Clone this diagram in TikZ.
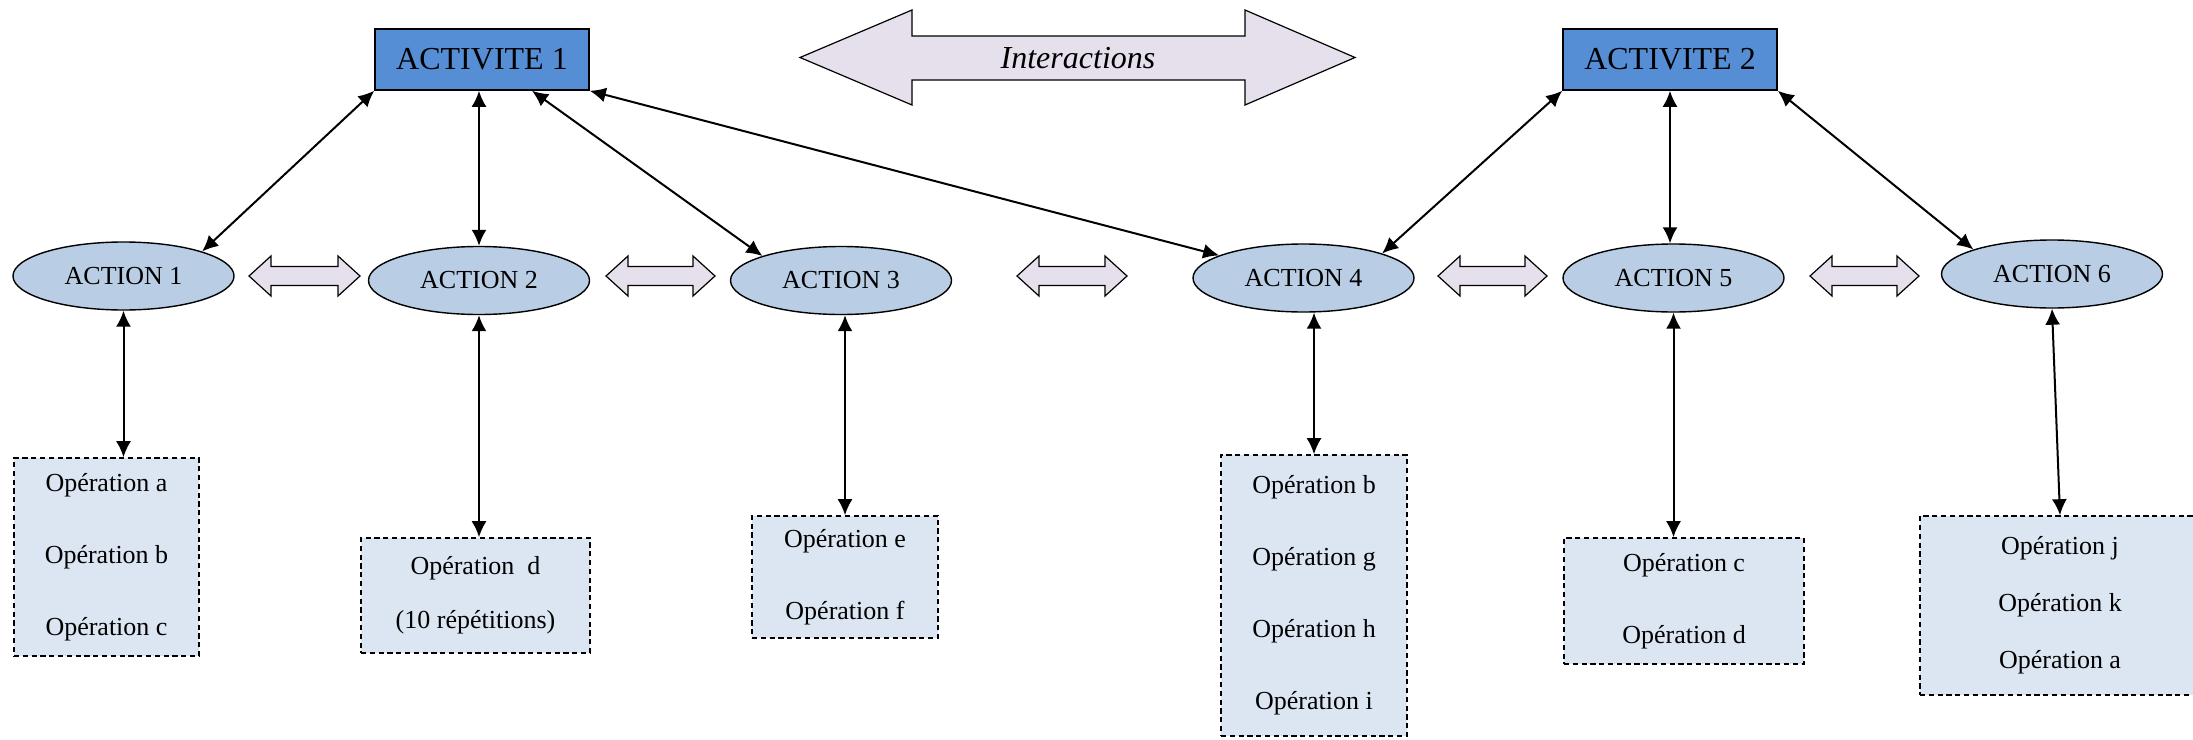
\documentclass[tikz,border=0pt]{standalone}
\usepackage{fontspec}
\setmainfont{Liberation Serif}
\usetikzlibrary{arrows.meta,shapes.geometric}
\definecolor{actblue}{RGB}{85,142,213}
\definecolor{ellblue}{RGB}{185,205,229}
\definecolor{opblue}{RGB}{220,230,242}
\definecolor{lav}{RGB}{230,224,236}
\tikzset{
  activ/.style={draw, line width=0.8pt, fill=actblue, rectangle, minimum width=107pt, minimum height=30.5pt, inner sep=0pt, font=\fontsize{16}{19}\selectfont},
  actell/.style={draw, line width=0.7pt, fill=ellblue, ellipse, minimum width=110.5pt, minimum height=34pt, inner sep=0pt, font=\fontsize{13}{16}\selectfont},
  opbox/.style={draw, line width=0.8pt, dash pattern=on 2.6pt off 1.8pt, fill=opblue, rectangle, inner sep=0pt, align=center},
  link/.style={line width=1pt, {Latex[length=8pt,width=7.5pt]}-{Latex[length=8pt,width=7.5pt]}},
  blockarrow/.style={draw, line width=0.6pt, fill=lav, line join=miter}
}
\newcommand{\smallblockarrow}[2]{%
  \draw[blockarrow] (#1,276) -- ({#1+22},256) -- ({#1+22},266.5) -- ({#2-22},266.5) -- ({#2-22},256) -- (#2,276) -- ({#2-22},296) -- ({#2-22},285.5) -- ({#1+22},285.5) -- ({#1+22},296) -- cycle;}
\begin{document}
\begin{tikzpicture}[x=0.5pt,y=-0.5pt]
\useasboundingbox (0,0) rectangle (2193,739);
% big interactions arrow
\draw[blockarrow] (800,57.5) -- (912,10) -- (912,36) -- (1245,36) -- (1245,10) -- (1355,57.5) -- (1245,105) -- (1245,80) -- (912,80) -- (912,105) -- cycle;
\node[font=\fontsize{16}{19}\selectfont\itshape] (inter) at (1078,58) {Interactions};
% activities
\node[activ] (a1) at (482,59.5) {ACTIVITE 1};
\node[activ] (a2) at (1670,59.5) {ACTIVITE 2};
% actions
\node[actell] (act1) at (123.5,276) {ACTION 1};
\node[actell] (act2) at (479,280.5) {ACTION 2};
\node[actell] (act3) at (841,280.5) {ACTION 3};
\node[actell] (act4) at (1303.5,278) {ACTION 4};
\node[actell] (act5) at (1673.5,278) {ACTION 5};
\node[actell] (act6) at (2052,274) {ACTION 6};
% small arrows
\smallblockarrow{249}{360}
\smallblockarrow{606}{715}
\smallblockarrow{1017}{1127}
\smallblockarrow{1438}{1547}
\smallblockarrow{1810}{1919}
% operation boxes
\node[opbox, minimum width=92.5pt, minimum height=99pt, font=\fontsize{13}{36}\selectfont] (op1) at (106.5,557) {Opération a\\Opération b\\Opération c};
\node[opbox, minimum width=114.5pt, minimum height=57.5pt, font=\fontsize{13}{27}\selectfont] (op2) at (475.5,595.5) {Opération\ \ d\\(10 répétitions)};
\node[opbox, minimum width=93pt, minimum height=61pt, font=\fontsize{13}{36}\selectfont] (op3) at (845,577) {Opération e\\Opération f};
\node[opbox, minimum width=93pt, minimum height=140.5pt, font=\fontsize{13}{36}\selectfont] (op4) at (1314,595.5) {Opération b\\Opération g\\Opération h\\Opération i};
\node[opbox, minimum width=120pt, minimum height=63pt, font=\fontsize{13}{36}\selectfont] (op5) at (1684,601) {Opération c\\Opération d};
\node[opbox, minimum width=140pt, minimum height=89.5pt, font=\fontsize{13}{28.5}\selectfont] (op6) at (2060,605.5) {Opération j\\Opération k\\Opération a};
% links activity - action
\draw[link] (a1.south west) -- (act1.north east);
\draw[link] (a1.south -| act2.north) -- (act2.north);
\draw[link] (a1.south) ++(50,0) coordinate (a1s3) (a1s3) -- (act3.north west);
\draw[link] (a1.south east) -- (act4.165);
\draw[link] (a2.south west) -- (act4.north east);
\draw[link] (a2.south) -- (a2.south |- act5.north);
\draw[link] (a2.south east) -- (act6.north west);
% links action - operations
\draw[link] (act1.south) -- (act1.south |- op1.north);
\draw[link] (act2.south) -- (act2.south |- op2.north);
\draw[link] (op3.north |- act3.south) -- (op3.north);
\draw[link] (op4.north |- act4.south) -- (op4.north);
\draw[link] (act5.south) -- (act5.south |- op5.north);
\draw[link] (act6.south) -- (op6.north);
\end{tikzpicture}
\end{document}
